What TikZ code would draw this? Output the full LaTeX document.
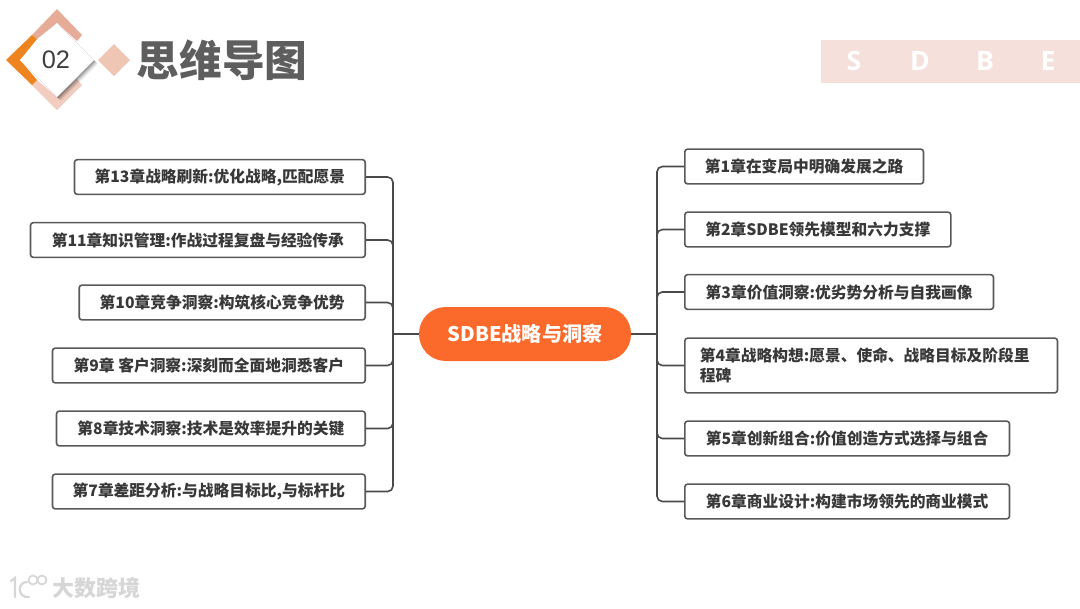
\documentclass[tikz,border=0pt]{standalone}
\usepackage{fontspec}
\usepackage{xcolor}
\usepackage{tikz}
\setmainfont{Noto Sans CJK SC}
\newfontfamily\latinfont{Liberation Sans}
\newfontfamily\bannerfont{Open Sans}
\definecolor{linkGrey}{HTML}{4A4A4A}
\definecolor{boxGrey}{HTML}{595959}
\definecolor{titleGrey}{HTML}{5E5E5E}
\definecolor{rootOrange}{HTML}{FC6A2B}
\definecolor{darkOrange}{HTML}{EE8420}
\definecolor{salmonTop}{HTML}{E6AC98}
\definecolor{salmonLow}{HTML}{F2CDBF}
\definecolor{salmonMid}{HTML}{EFC6B4}
\definecolor{bannerPink}{HTML}{F6E0DB}
\definecolor{markGrey}{HTML}{D6D6D6}
\tikzset{
  chapbox/.style={draw=boxGrey, line width=1.2pt, rounded corners=2pt, fill=white, inner sep=0pt,
    minimum height=26pt, font=\fontsize{11.8}{14.5}\selectfont\bfseries, text=black!78},
  rootbox/.style={fill=rootOrange, rounded corners=20pt, minimum width=159pt, minimum height=40.5pt,
    inner sep=0pt, text=white, font=\fontsize{15.1}{18}\selectfont\bfseries},
  link/.style={draw=linkGrey, line width=1.2pt, rounded corners=4pt},
  stem/.style={draw=linkGrey, line width=1.7pt},
}

\begin{document}
\begin{tikzpicture}[x=0.75pt, y=-0.75pt]
    \useasboundingbox (0,0) rectangle (1080,608);

    % header badge
    \fill[salmonTop] (32,35) -- (57,9) -- (82,35) -- (77,41) -- (57,23) -- (37,39) -- cycle;
    \fill[salmonLow] (32,85) -- (57,110) -- (82,85) -- (77,79) -- (57,97) -- (37,80) -- cycle;
    \fill[darkOrange] (6,60) -- (32,35) -- (37,39) -- (20,60) -- (37,80) -- (32,85) -- cycle;
    \foreach \off/\op in {4/0.06, 3/0.10, 2/0.14, 1/0.18}
        \fill[black, opacity=\op] (57+\off,23+\off) -- (94+\off,60+\off) -- (57+\off,97+\off) -- (20+\off,60+\off) -- cycle;
    \fill[white] (57,23) -- (94,60) -- (57,97) -- (20,60) -- cycle;
    \fill[salmonMid] (114,44) -- (130,60) -- (114,76) -- (98,60) -- cycle;
    \node (badge) at (56,60) [font=\fontsize{19}{20}\selectfont\latinfont, text=black!75, inner sep=0pt] {02};
    \node (title) at (222,60) [font=\fontsize{32}{35}\selectfont\bfseries, text=titleGrey, inner sep=0pt] {思维导图};

    % banner
    \fill[bannerPink] (821,40) rectangle (1080,83);
    \foreach \name/\xpos/\letter in {bs/854/S, bd/920/D, bb/985/B, be/1048/E}
        \node (\name) at (\xpos,61) [font=\fontsize{20}{22}\selectfont\bannerfont\bfseries, text=white, inner sep=0pt] {\letter};

    % root and trunks
    \node (root) at (525,334) [rootbox] {SDBE战略与洞察};
    \coordinate (trunkL) at (393,334);
    \coordinate (trunkR) at (657,334);

    % left side
    \node (c13) at (366,177) [chapbox, anchor=east, minimum width=218pt] {第13章战略刷新:优化战略,匹配愿景};
    \node (c11) at (366,240) [chapbox, anchor=east, minimum width=251pt] {第11章知识管理:作战过程复盘与经验传承};
    \node (c10) at (366,302.5) [chapbox, anchor=east, minimum width=214.5pt] {第10章竞争洞察:构筑核心竞争优势};
    \node (c9) at (366,365.5) [chapbox, anchor=east, minimum width=234.5pt] {第9章 客户洞察:深刻而全面地洞悉客户};
    \node (c8) at (366,428.5) [chapbox, anchor=east, minimum width=231.5pt] {第8章技术洞察:技术是效率提升的关键};
    \node (c7) at (366,491.5) [chapbox, anchor=east, minimum width=234.5pt] {第7章差距分析:与战略目标比,与标杆比};

    % right side
    \node (c1) at (684,166.5) [chapbox, anchor=west, minimum width=179pt] {第1章在变局中明确发展之路};
    \node (c2) at (684,229.5) [chapbox, anchor=west, minimum width=199.5pt] {第2章SDBE领先模型和六力支撑};
    \node (c3) at (684,292) [chapbox, anchor=west, minimum width=231.5pt] {第3章价值洞察:优劣势分析与自我画像};
    \node (c4) at (684,365.5) [chapbox, anchor=west, minimum width=279.5pt, minimum height=41pt, align=left, text width=257pt] {第4章战略构想:愿景、使命、战略目标及阶段里\\程碑};
    \node (c5) at (684,438.5) [chapbox, anchor=west, minimum width=243.5pt] {第5章创新组合:价值创造方式选择与组合};
    \node (c6) at (684,501.5) [chapbox, anchor=west, minimum width=243.5pt] {第6章商业设计:构建市场领先的商业模式};

    \draw[stem] (root.west) -- (trunkL);
    \draw[stem] (root.east) -- (trunkR);
    \foreach \chap in {c13,c11,c10,c9,c8,c7}
        \draw[link] (trunkL) |- (\chap.east);
    \foreach \chap in {c1,c2,c3,c4,c5,c6}
        \draw[link] (trunkR) |- (\chap.west);

    % watermark
    \node (mark) at (96,588) [font=\fontsize{16.5}{18}\selectfont\bfseries, text=markGrey, inner sep=0pt] {大数跨境};
    \draw[markGrey, line width=1.7pt, line cap=round] (11,581) -- (15,578) -- (15,597);
    \draw[markGrey, line width=1.7pt, line cap=round] (27,582) .. controls (17,582) and (17,598) .. (29,597);
    \draw[markGrey, line width=1.3pt] (33,580) circle (4.5);
    \draw[markGrey, line width=1.3pt] (42,580) circle (4.5);
\end{tikzpicture}
\end{document}
